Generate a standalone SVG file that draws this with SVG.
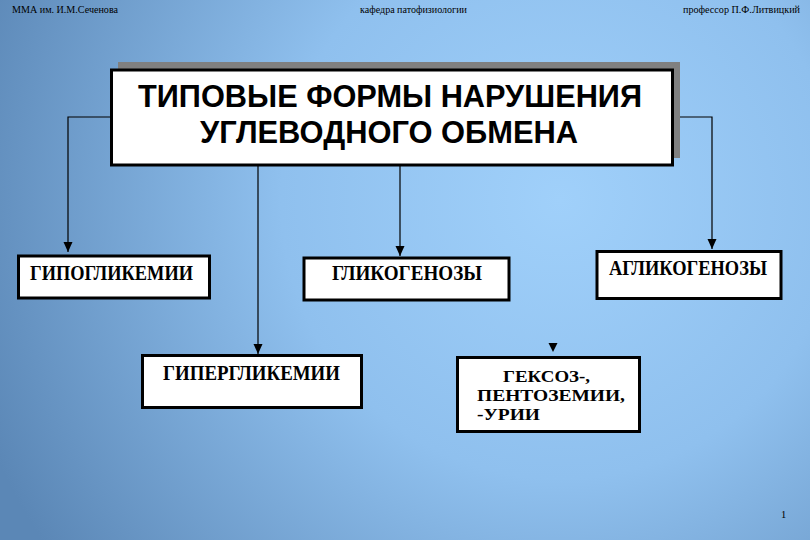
<svg xmlns="http://www.w3.org/2000/svg" width="810" height="540" viewBox="0 0 810 540">
  <defs>
    <radialGradient id="bg" cx="560" cy="200" r="620" gradientUnits="userSpaceOnUse">
      <stop offset="0" stop-color="#a0d0fa"/>
      <stop offset="0.45" stop-color="#8fc0ee"/>
      <stop offset="1" stop-color="#5b87b6"/>
    </radialGradient>
    <marker id="arr" markerUnits="userSpaceOnUse" markerWidth="10" markerHeight="10" viewBox="0 0 10 10" refX="10" refY="5" orient="auto">
      <path d="M0,0.5 L10,5 L0,9.5 Z" fill="#000"/>
    </marker>
  </defs>
  <style>
    .hdr { font-family: "Liberation Serif", "Times New Roman", serif; font-size: 10.5px; fill: #000; }
    .box { fill: #fff; stroke: #000; stroke-width: 3; }
    .lbl { font-family: "Liberation Serif", "Times New Roman", serif; font-weight: bold; font-size: 20px; fill: #000; }
    .sm { font-size: 17px; }
    .ttl { font-family: "Liberation Sans", Arial, sans-serif; font-weight: bold; font-size: 32px; fill: #000; }
    .con { fill: none; stroke: #000; stroke-width: 1.2; }
  </style>
  <rect width="810" height="540" fill="url(#bg)"/>

  <g id="header">
    <text class="hdr" x="12" y="13" textLength="106" lengthAdjust="spacingAndGlyphs">ММА им. И.М.Сеченова</text>
    <text class="hdr" x="360" y="13" textLength="107" lengthAdjust="spacingAndGlyphs">кафедра патофизиологии</text>
    <text class="hdr" x="683" y="13" textLength="117" lengthAdjust="spacingAndGlyphs">профессор П.Ф.Литвицкий</text>
    <text class="hdr" x="781" y="518" font-size="11">1</text>
  </g>

  <g id="connectors">
    <path class="con" d="M111,117 H68 V252" marker-end="url(#arr)"/>
    <path class="con" d="M673,117 H712 V249" marker-end="url(#arr)"/>
    <path class="con" d="M400,165 V256" marker-end="url(#arr)"/>
    <path class="con" d="M258,165 V354" marker-end="url(#arr)"/>
    <polygon points="548.5,343 557.5,343 553,352" fill="#000"/>
  </g>

  <g id="main">
    <rect x="118" y="62" width="562" height="96" fill="#808080"/>
    <rect class="box" x="111.5" y="70" width="561" height="95"/>
    <text class="ttl" x="138" y="107" textLength="504" lengthAdjust="spacingAndGlyphs">ТИПОВЫЕ ФОРМЫ НАРУШЕНИЯ</text>
    <text class="ttl" x="200" y="143" textLength="378" lengthAdjust="spacingAndGlyphs">УГЛЕВОДНОГО ОБМЕНА</text>
  </g>

  <g id="hypoglycemia">
    <rect class="box" x="18.5" y="256" width="191" height="42"/>
    <text class="lbl" x="30" y="280" textLength="163" lengthAdjust="spacingAndGlyphs">ГИПОГЛИКЕМИИ</text>
  </g>

  <g id="glycogenoses">
    <rect class="box" x="304" y="258" width="205" height="42"/>
    <text class="lbl" x="332" y="280" textLength="150" lengthAdjust="spacingAndGlyphs">ГЛИКОГЕНОЗЫ</text>
  </g>

  <g id="aglycogenoses">
    <rect class="box" x="597" y="251.5" width="184" height="47"/>
    <text class="lbl" x="609" y="275" textLength="158" lengthAdjust="spacingAndGlyphs">АГЛИКОГЕНОЗЫ</text>
  </g>

  <g id="hyperglycemia">
    <rect class="box" x="142.5" y="355.5" width="219" height="52"/>
    <text class="lbl" x="163" y="380" textLength="177" lengthAdjust="spacingAndGlyphs">ГИПЕРГЛИКЕМИИ</text>
  </g>

  <g id="hexoses">
    <rect class="box" x="457.5" y="357.5" width="182" height="74"/>
    <text class="lbl sm" x="503" y="382" textLength="87" lengthAdjust="spacingAndGlyphs">ГЕКСОЗ-,</text>
    <text class="lbl sm" x="477" y="401" textLength="148" lengthAdjust="spacingAndGlyphs">ПЕНТОЗЕМИИ,</text>
    <text class="lbl sm" x="477" y="420" textLength="63" lengthAdjust="spacingAndGlyphs">-УРИИ</text>
  </g>
</svg>
